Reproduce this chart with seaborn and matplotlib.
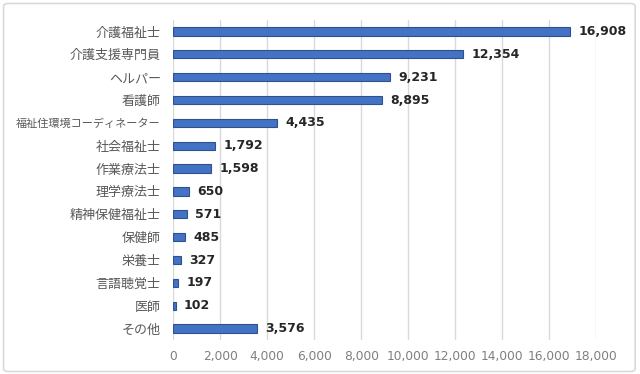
import numpy as np
import pandas as pd
import seaborn as sns
import matplotlib.pyplot as plt
from matplotlib.patches import FancyBboxPatch

# 資格ごとの人数
categories = ['介護福祉士', '介護支援専門員', 'ヘルパー', '看護師', '福祉住環境コーディネーター',
              '社会福祉士', '作業療法士', '理学療法士', '精神保健福祉士', '保健師',
              '栄養士', '言語聴覚士', '医師', 'その他']
values = [16908, 12354, 9231, 8895, 4435, 1792, 1598, 650, 571, 485, 327, 197, 102, 3576]
x_ticks = list(range(0, 18001, 2000))

df = pd.DataFrame({'資格': categories, '人数': values})

sns.set_theme(style='white')
plt.rcParams['font.family'] = ['Noto Sans CJK JP', 'DejaVu Sans']

fig = plt.figure(figsize=(6.4, 3.74), dpi=100)
ax = fig.add_axes([0.2708, 0.0909, 0.6605, 0.8556])

sns.barplot(data=df, x='人数', y='資格', orient='h', color='#4472C4',
            saturation=1, width=0.36, edgecolor='#2F528F', linewidth=0.8, ax=ax)

ax.bar_label(ax.containers[0], labels=[f'{v:,}' for v in values], padding=6,
             fontsize=9, fontweight='bold', color='#262626', family='DejaVu Sans')

ax.set_xlim(0, 18000)
ax.set_ylim(len(categories) - 0.5, -0.5)
ax.set_xticks(x_ticks)
ax.set_xticklabels([f'{v:,}' for v in x_ticks], fontsize=8.8, color='#7f7f7f',
                   family='DejaVu Sans')
ax.tick_params(axis='x', length=0, pad=7)
ax.tick_params(axis='y', length=0, pad=9, labelsize=9.4, labelcolor='#595959')
# 長いラベルは少し小さく
for lbl in ax.get_yticklabels():
    if len(lbl.get_text()) > 10:
        lbl.set_fontsize(8.0)
ax.set_xlabel('')
ax.set_ylabel('')
ax.grid(axis='x', color='#d9d9d9', linewidth=1)
ax.set_axisbelow(True)
sns.despine(ax=ax, left=True, bottom=True)

# 外枠
fig.patches.append(FancyBboxPatch((0.0055, 0.0067), 0.987, 0.984,
                                  boxstyle='round,pad=0,rounding_size=0.008',
                                  transform=fig.transFigure, fill=False,
                                  edgecolor='#d9d9d9', linewidth=1.2))

fig.savefig('out.png', dpi=100)
